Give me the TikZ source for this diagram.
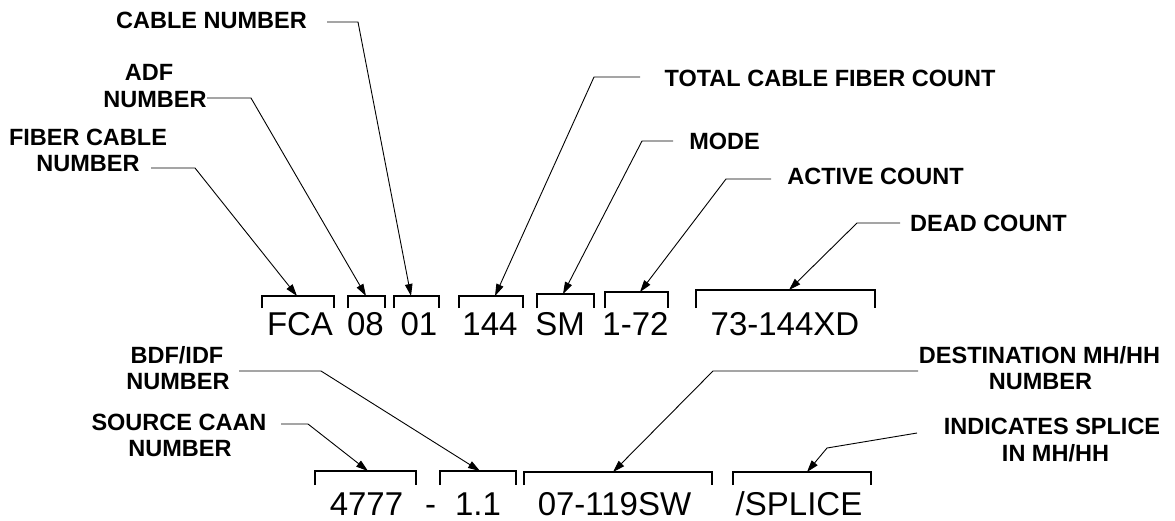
\documentclass[tikz,border=0pt]{standalone}
\usepackage{fontspec}
\setmainfont{Liberation Sans}
\usetikzlibrary{arrows.meta}
\tikzset{
  lbl/.style={inner sep=0pt, anchor=base, font=\bfseries\fontsize{23.5}{28}\selectfont},
  code/.style={inner sep=0pt, anchor=base, font=\fontsize{33}{40}\selectfont},
  lead/.style={draw=black, line width=0.9pt, -{Triangle[length=12pt,width=7.5pt]}},
  brk/.style={draw=black, line width=1.1pt}
}
\newcommand{\mybrk}[4]{\draw[brk] (#1,#4) -- (#1,#3) -- (#2,#3) -- (#2,#4);}
\begin{document}
\begin{tikzpicture}[x=1pt,y=-1pt]
\useasboundingbox[fill=white] (0,0) rectangle (1175,520);
% ---------- upper row brackets ----------
\mybrk{262}{334}{296}{308}
\mybrk{348}{385}{296}{308}
\mybrk{394}{439}{296}{308}
\mybrk{459}{523}{296}{308}
\mybrk{537}{594}{294}{308}
\mybrk{605}{668}{292}{308}
\mybrk{696}{875}{290}{308}
\coordinate (tFCA) at (297,296);
\coordinate (t08) at (366,296);
\coordinate (t01) at (411,296);
\coordinate (t144) at (495,296);
\coordinate (tSM) at (563,294);
\coordinate (t172) at (640,292);
\coordinate (tXD) at (789,290);
% upper codes
\node[code] (cFCA) at (300,335) {FCA};
\node[code] (c08) at (365.5,335) {08};
\node[code] (c01) at (419,335) {01};
\node[code] (c144) at (490,335) {144};
\node[code] (cSM) at (560,335) {SM};
\node[code] (c172) at (635.5,335) {1-72};
\node[code] (cXD) at (785,335) {73-144XD};
% ---------- lower row brackets ----------
\mybrk{315}{416}{471}{485}
\mybrk{440}{516}{471}{485}
\mybrk{524}{712}{472}{485}
\mybrk{733}{871}{472}{485}
\coordinate (t4777) at (368,471);
\coordinate (t11) at (480,471);
\coordinate (tSW) at (613,472);
\coordinate (tSPL) at (807,472);
\node[code] (c4777) at (366.5,515) {4777};
\node[code] (cdash) at (430.5,515) {-};
\node[code] (c11) at (478,515) {1.1};
\node[code] (cSW) at (614.5,515) {07-119SW};
\node[code] (cSPL) at (799,515) {/SPLICE};
% ---------- labels ----------
\node[lbl] (lCable) at (211.5,28) {CABLE NUMBER};
\node[lbl] (lADF1) at (149,80) {ADF};
\node[lbl] (lADF2) at (155,107) {NUMBER};
\node[lbl] (lFib1) at (88,145) {FIBER CABLE};
\node[lbl] (lFib2) at (88,171) {NUMBER};
\node[lbl] (lTot) at (830,86) {TOTAL CABLE FIBER COUNT};
\node[lbl] (lMode) at (724.5,149) {MODE};
\node[lbl] (lAct) at (875.5,184) {ACTIVE COUNT};
\node[lbl] (lDead) at (988.5,231) {DEAD COUNT};
\node[lbl] (lBDF1) at (177,363) {BDF/IDF};
\node[lbl] (lBDF2) at (178,389) {NUMBER};
\node[lbl] (lSrc1) at (179,430) {SOURCE CAAN};
\node[lbl] (lSrc2) at (180,456) {NUMBER};
\node[lbl] (lDst1) at (1039.5,363) {DESTINATION MH/HH};
\node[lbl] (lDst2) at (1040.5,389) {NUMBER};
\node[lbl] (lInd1) at (1052,434) {INDICATES SPLICE};
\node[lbl] (lInd2) at (1055.5,461) {IN MH/HH};
% ---------- leader coordinates ----------
\coordinate (aCable) at (327,22);  \coordinate (bCable) at (358,22);
\coordinate (aADF) at (207,98);    \coordinate (bADF) at (251,98);
\coordinate (aFib) at (151,168);   \coordinate (bFib) at (195,168);
\coordinate (aTot) at (640,77);    \coordinate (bTot) at (594,77);
\coordinate (aMode) at (673,141);  \coordinate (bMode) at (642,141);
\coordinate (aAct) at (771,179);   \coordinate (bAct) at (726,179);
\coordinate (aDead) at (900,223);  \coordinate (bDead) at (857,223);
\coordinate (aBDF) at (239,371);   \coordinate (bBDF) at (321,371);
\coordinate (aSrc) at (281,424);   \coordinate (bSrc) at (308,424);
\coordinate (aDst) at (918,371);   \coordinate (bDst) at (713,371);
\coordinate (aInd) at (917,433);   \coordinate (bInd) at (827,448);
% ---------- leaders ----------
\draw[lead] (aCable) -- (bCable) -- (t01);
\draw[lead] (aADF) -- (bADF) -- (t08);
\draw[lead] (aFib) -- (bFib) -- (tFCA);
\draw[lead] (aTot) -- (bTot) -- (t144);
\draw[lead] (aMode) -- (bMode) -- (tSM);
\draw[lead] (aAct) -- (bAct) -- (t172);
\draw[lead] (aDead) -- (bDead) -- (tXD);
\draw[lead] (aBDF) -- (bBDF) -- (t11);
\draw[lead] (aSrc) -- (bSrc) -- (t4777);
\draw[lead] (aDst) -- (bDst) -- (tSW);
\draw[lead] (aInd) -- (bInd) -- (tSPL);
\end{tikzpicture}
\end{document}
